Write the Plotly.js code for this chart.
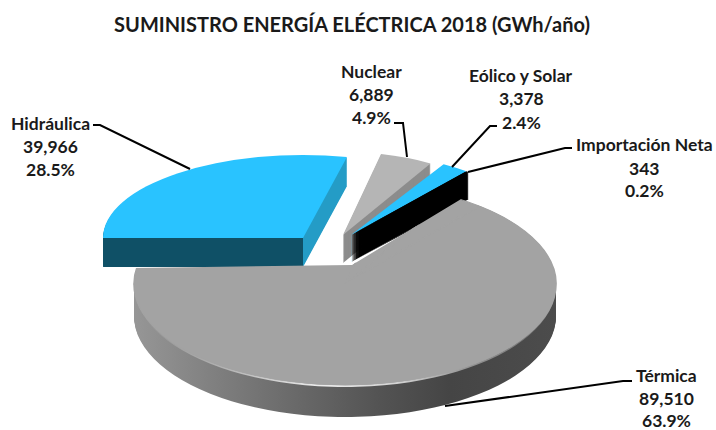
<!DOCTYPE html>
<html><head><meta charset="utf-8">
<script src="https://cdn.plot.ly/plotly-3.0.1.min.js"></script>
<style>html,body{margin:0;padding:0;background:#fff}#c{width:716px;height:430px}</style>
</head><body><div id="c"></div>
<script>
const categories = ['Hidráulica','Nuclear','Eólico y Solar','Importación Neta','Térmica'];
const values = [39966,6889,3378,343,89510];
const valueLabels = ['39,966','6,889','3,378','343','89,510'];
const percentLabels = ['28.5%','4.9%','2.4%','0.2%','63.9%'];

const W=716,H=430,R=200,CX=358,CY=215,MT=15,MB=15;
const T='transparent';
const PX=x=>x/W, PY=y=>1-(y-MT)/(H-MT-MB);
// Each entry: slices to paint, fill, projected centre and radii of the tilted disc
const layers=[];
function add(slices,fill,g,dy,clip){layers.push({slices,fill,g,dy:dy||0,clip});}
function wall(slices,fill,g,depth){for(let d=depth;d>=1;d--)add(slices,fill,g,d);}
const gH={ax:303,ay:238,rx:200,ry:83}, gN={ax:343,ay:235,rx:173,ry:83},
      gE={ax:351,ay:235,rx:183,ry:82}, gT={ax:345,ay:284,rx:211,ry:101};
const hard=(g,x,a,b)=>({type:'hard',g,x,a,b});
const therm={type:'stops',g:gT,stops:[[135,'#969696'],[220,'#7e7e7e'],[300,'#686868'],[380,'#535353'],[450,'#454545'],[556,'#4c4c4c']]};
const bevel={type:'stops',g:gT,stops:[[135,'#8f8f8f'],[230,'#b5b5b5'],[320,'#ececec'],[400,'#d2d2d2'],[470,'#929292'],[556,'#6e6e6e']]};

wall([0],hard(gH,303,'#0f5066','#249cc6'),gH,29);
add([0],'#29c3ff',gH);
wall([1],'#8c8c8c',gN,28);
add([1],'#b5b5b5',gN);
wall([2,3],hard(gE,352.5,'#29c3ff','#000000'),gE,27);
add([2],'#29c3ff',gE);
add([3],'#000000',gE);
wall([4],therm,gT,32);
add([4],bevel,gT,2);
add([0,1,2,3,4],'#a3a3a3',gT,0,[[100,268.5],[352,265],[600,115],[600,420],[100,420]]);
add([4],'#a3a3a3',gT);

const traces=layers.map(l=>({
  type:'pie',values:values,labels:categories,sort:false,direction:'clockwise',rotation:270,
  textinfo:'none',hoverinfo:'skip',showlegend:false,
  marker:{colors:values.map((v,i)=>l.slices.includes(i)&&typeof l.fill==='string'?l.fill:(l.slices.includes(i)?'#888':T)),
          line:l.clip?{width:1.5,color:l.fill}:{width:0}}
}));

const F='Lato, "Open Sans", sans-serif';
const labelCx=[50,371,521,644,666];
const labelY=[[123,146,170],[72,95,117],[75,98,122],[145,168,191],[375,398,421]];
const annotations=[];
categories.forEach((c,i)=>{[c,valueLabels[i],percentLabels[i]].forEach((t,j)=>{
  annotations.push({xref:'paper',yref:'paper',x:PX(labelCx[i]),y:PY(labelY[i][j]),xanchor:'center',yanchor:'middle',
    showarrow:false,align:'center',text:'<b>'+t+'</b>',font:{family:F,size:17.5,color:'#1a1a1a'}});
});});
const leaders=[
 [[93,125],[100,125],[190,169]],
 [[394,123],[403,123],[407,157]],
 [[497,126],[490,126],[452,167]],
 [[572,148],[565,148],[468,172]],
 [[632,381],[623,381],[445,406]]
];
const shapes=leaders.map(p=>({type:'path',xref:'paper',yref:'paper',layer:'above',
  path:p.map((q,i)=>(i?'L':'M')+PX(q[0])+','+PY(q[1])).join(' '),line:{color:'#000',width:2}}));

const layout={width:W,height:H,margin:{l:0,r:0,t:MT,b:MB},paper_bgcolor:'#fff',showlegend:false,
  title:{text:'<b>SUMINISTRO ENERGÍA ELÉCTRICA 2018 (GWh/año)</b>',x:352/W,y:1-24.5/H,xanchor:'center',yanchor:'middle',
         font:{family:F,size:20,color:'#1a1a1a'}},
  annotations,shapes};

Plotly.newPlot('c',traces,layout,{staticPlot:true,displayModeBar:false}).then(gd=>{
  const svg=gd.querySelector('.main-svg');
  const NS='http://www.w3.org/2000/svg';
  const defs=document.createElementNS(NS,'defs');svg.insertBefore(defs,svg.firstChild);
  const lx=(X,g)=>CX+(X-g.ax)*R/g.rx, ly=(Y,g,dy)=>CY+(Y-g.ay-dy)*R/g.ry;
  const cache=new Map();let n=0;
  function grad(f){
    if(cache.has(f))return cache.get(f);
    const id='gr'+(n++),e=document.createElementNS(NS,'linearGradient');
    e.setAttribute('id',id);e.setAttribute('gradientUnits','userSpaceOnUse');
    e.setAttribute('y1','0');e.setAttribute('y2','0');
    const stops=f.type==='hard'?[[f.x,f.a],[f.x,f.b]]:f.stops;
    const x0=f.type==='hard'?f.x-300:stops[0][0], x1=f.type==='hard'?f.x+300:stops[stops.length-1][0];
    e.setAttribute('x1',lx(x0,f.g));e.setAttribute('x2',lx(x1,f.g));
    stops.forEach(s=>{const t=document.createElementNS(NS,'stop');
      t.setAttribute('offset',(s[0]-x0)/(x1-x0));t.setAttribute('stop-color',s[1]);e.appendChild(t);});
    defs.appendChild(e);cache.set(f,id);return id;
  }
  const groups=gd.querySelectorAll('.pielayer .trace');
  groups.forEach((el,i)=>{
    const l=layers[i],g=l.g;
    el.setAttribute('transform','translate('+g.ax+','+(g.ay+l.dy)+') scale('+g.rx/R+','+g.ry/R+') translate('+(-CX)+','+(-CY)+')');
    if(typeof l.fill!=='string'){
      const id=grad(l.fill);
      el.querySelectorAll('.slice path.surface').forEach((p,k)=>{
        if(l.slices.includes(k))p.style.fill='url(#'+id+')';
      });
    }
    if(l.clip){
      const cp=document.createElementNS(NS,'clipPath');cp.setAttribute('id','cl'+i);
      const poly=document.createElementNS(NS,'polygon');
      poly.setAttribute('points',l.clip.map(q=>lx(q[0],g)+','+ly(q[1],g,l.dy)).join(' '));
      cp.appendChild(poly);defs.appendChild(cp);
      el.setAttribute('clip-path','url(#cl'+i+')');
    }
  });
});
</script></body></html>
